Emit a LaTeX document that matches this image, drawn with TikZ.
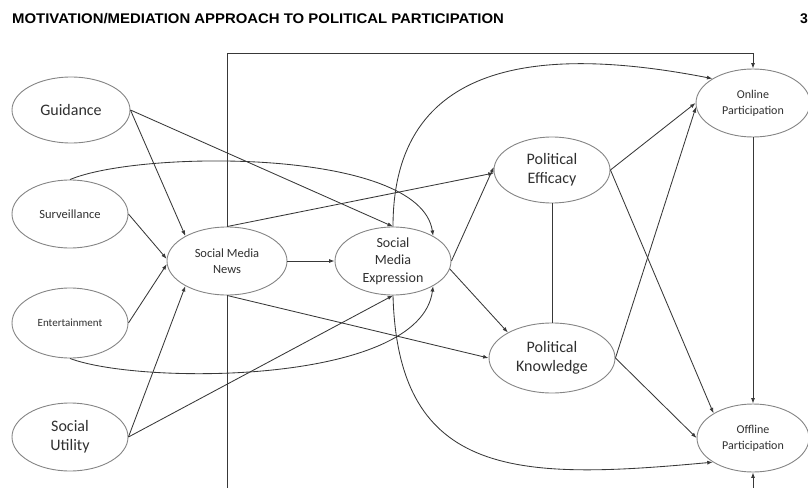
\documentclass[tikz,border=0pt]{standalone}
\usepackage{fontspec}
\setmainfont{Carlito}
\newfontfamily\headfont{Liberation Sans}
\usetikzlibrary{shapes.geometric,arrows.meta}
\definecolor{ellgray}{HTML}{858585}
\definecolor{linegray}{HTML}{383838}
\definecolor{txtgray}{HTML}{303030}
\begin{document}
\begin{tikzpicture}[x=1pt,y=-1pt,
  var/.style={ellipse, draw=ellgray, line width=0.9pt, fill=white, inner sep=0pt,
              align=center, text=txtgray, minimum width=116pt, minimum height=68pt},
  bigtxt/.style={font=\fontsize{16}{19}\selectfont},
  midtxt/.style={font=\fontsize{14}{17.5}\selectfont},
  smalltxt/.style={font=\fontsize{12.5}{16}\selectfont},
  tinytxt/.style={font=\fontsize{11}{14}\selectfont},
  link/.style={draw=linegray, line width=0.85pt, -{Latex[length=5.5pt,width=4pt]}},
  plainlink/.style={draw=linegray, line width=0.85pt}
]
\useasboundingbox (0,0) rectangle (808,487);

% heading
\node[anchor=base west, inner sep=0pt, font=\headfont\bfseries\fontsize{14}{14}\selectfont]
  (title) at (12,24) {\scalebox{1.065}[1]{MOTIVATION/MEDIATION APPROACH TO POLITICAL PARTICIPATION}};
\node[anchor=base west, inner sep=0pt, font=\headfont\bfseries\fontsize{14}{14}\selectfont]
  (pagenum) at (800,24) {3};

% motivations
\node[var, bigtxt, minimum width=118pt, minimum height=66pt] (gui) at (71,110) {Guidance};
\node[var, smalltxt] (sur) at (70,214) {Surveillance};
\node[var, tinytxt, minimum height=70pt] (ent) at (70,323) {Entertainment};
\node[var, bigtxt] (uti) at (70,437) {Social\\Utility};

% mediators
\node[var, smalltxt, minimum width=120pt] (smn) at (227,261) {Social Media\\News};
\node[var, midtxt] (sme) at (393,261) {Social\\Media\\Expression};
\node[var, bigtxt, minimum height=66pt] (eff) at (552,170) {Political\\Efficacy};
\node[var, bigtxt, minimum width=126pt, minimum height=70pt] (kno) at (552,358) {Political\\Knowledge};

% outcomes
\node[var, font=\fontsize{12}{16}\selectfont, minimum width=114pt] (onl) at (753,103) {Online\\Participation};
\node[var, font=\fontsize{12}{16}\selectfont, minimum width=112pt] (off) at (753,438) {Offline\\Participation};

% frame routes from social media news to both outcomes
\coordinate (topturn) at (227,53);
\coordinate (botturn) at (227,500);
\draw[link] (smn.north) -- (topturn) -| (onl.north);
\draw[link] (smn.south) -- (botturn) -| (off.south);

% motivations to news use and expression
\draw[link] (gui.east) -- (smn.149);
\draw[link] (gui.east) -- (sme.north);
\draw[link] (sur.east) -- (smn.178);
\draw[link] (sur.north) .. controls (140,150) and (420,148) .. (sme.32);
\draw[link] (ent.east) -- (smn.183);
\draw[link] (ent.south) .. controls (140,385) and (420,385) .. (sme.-32);
\draw[link] (uti.east) -- (smn.211);
\draw[link] (uti.east) -- (sme.south);

% news and expression to mediators
\draw[link] (smn.east) -- (sme.west);
\draw[link] (smn.north) -- (eff.183);
\draw[link] (smn.south) -- (kno.west);
\draw[link] (sme.east) -- (eff.177);
\draw[link] (sme.-8) -- (kno.150);
\draw[link] (sme.north) .. controls (393,60) and (540,45) .. (onl.149);
\draw[link] (sme.south) .. controls (398,480) and (520,480) .. (off.211);

% efficacy and knowledge to participation
\draw[plainlink] (eff.south) -- (kno.north);
\draw[link] (eff.east) -- (onl.180);
\draw[link] (eff.east) -- (off.148);
\draw[link] (kno.east) -- (onl.184);
\draw[link] (kno.east) -- (off.west);
\draw[link] (onl.south) -- (off.north);
\end{tikzpicture}
\end{document}
